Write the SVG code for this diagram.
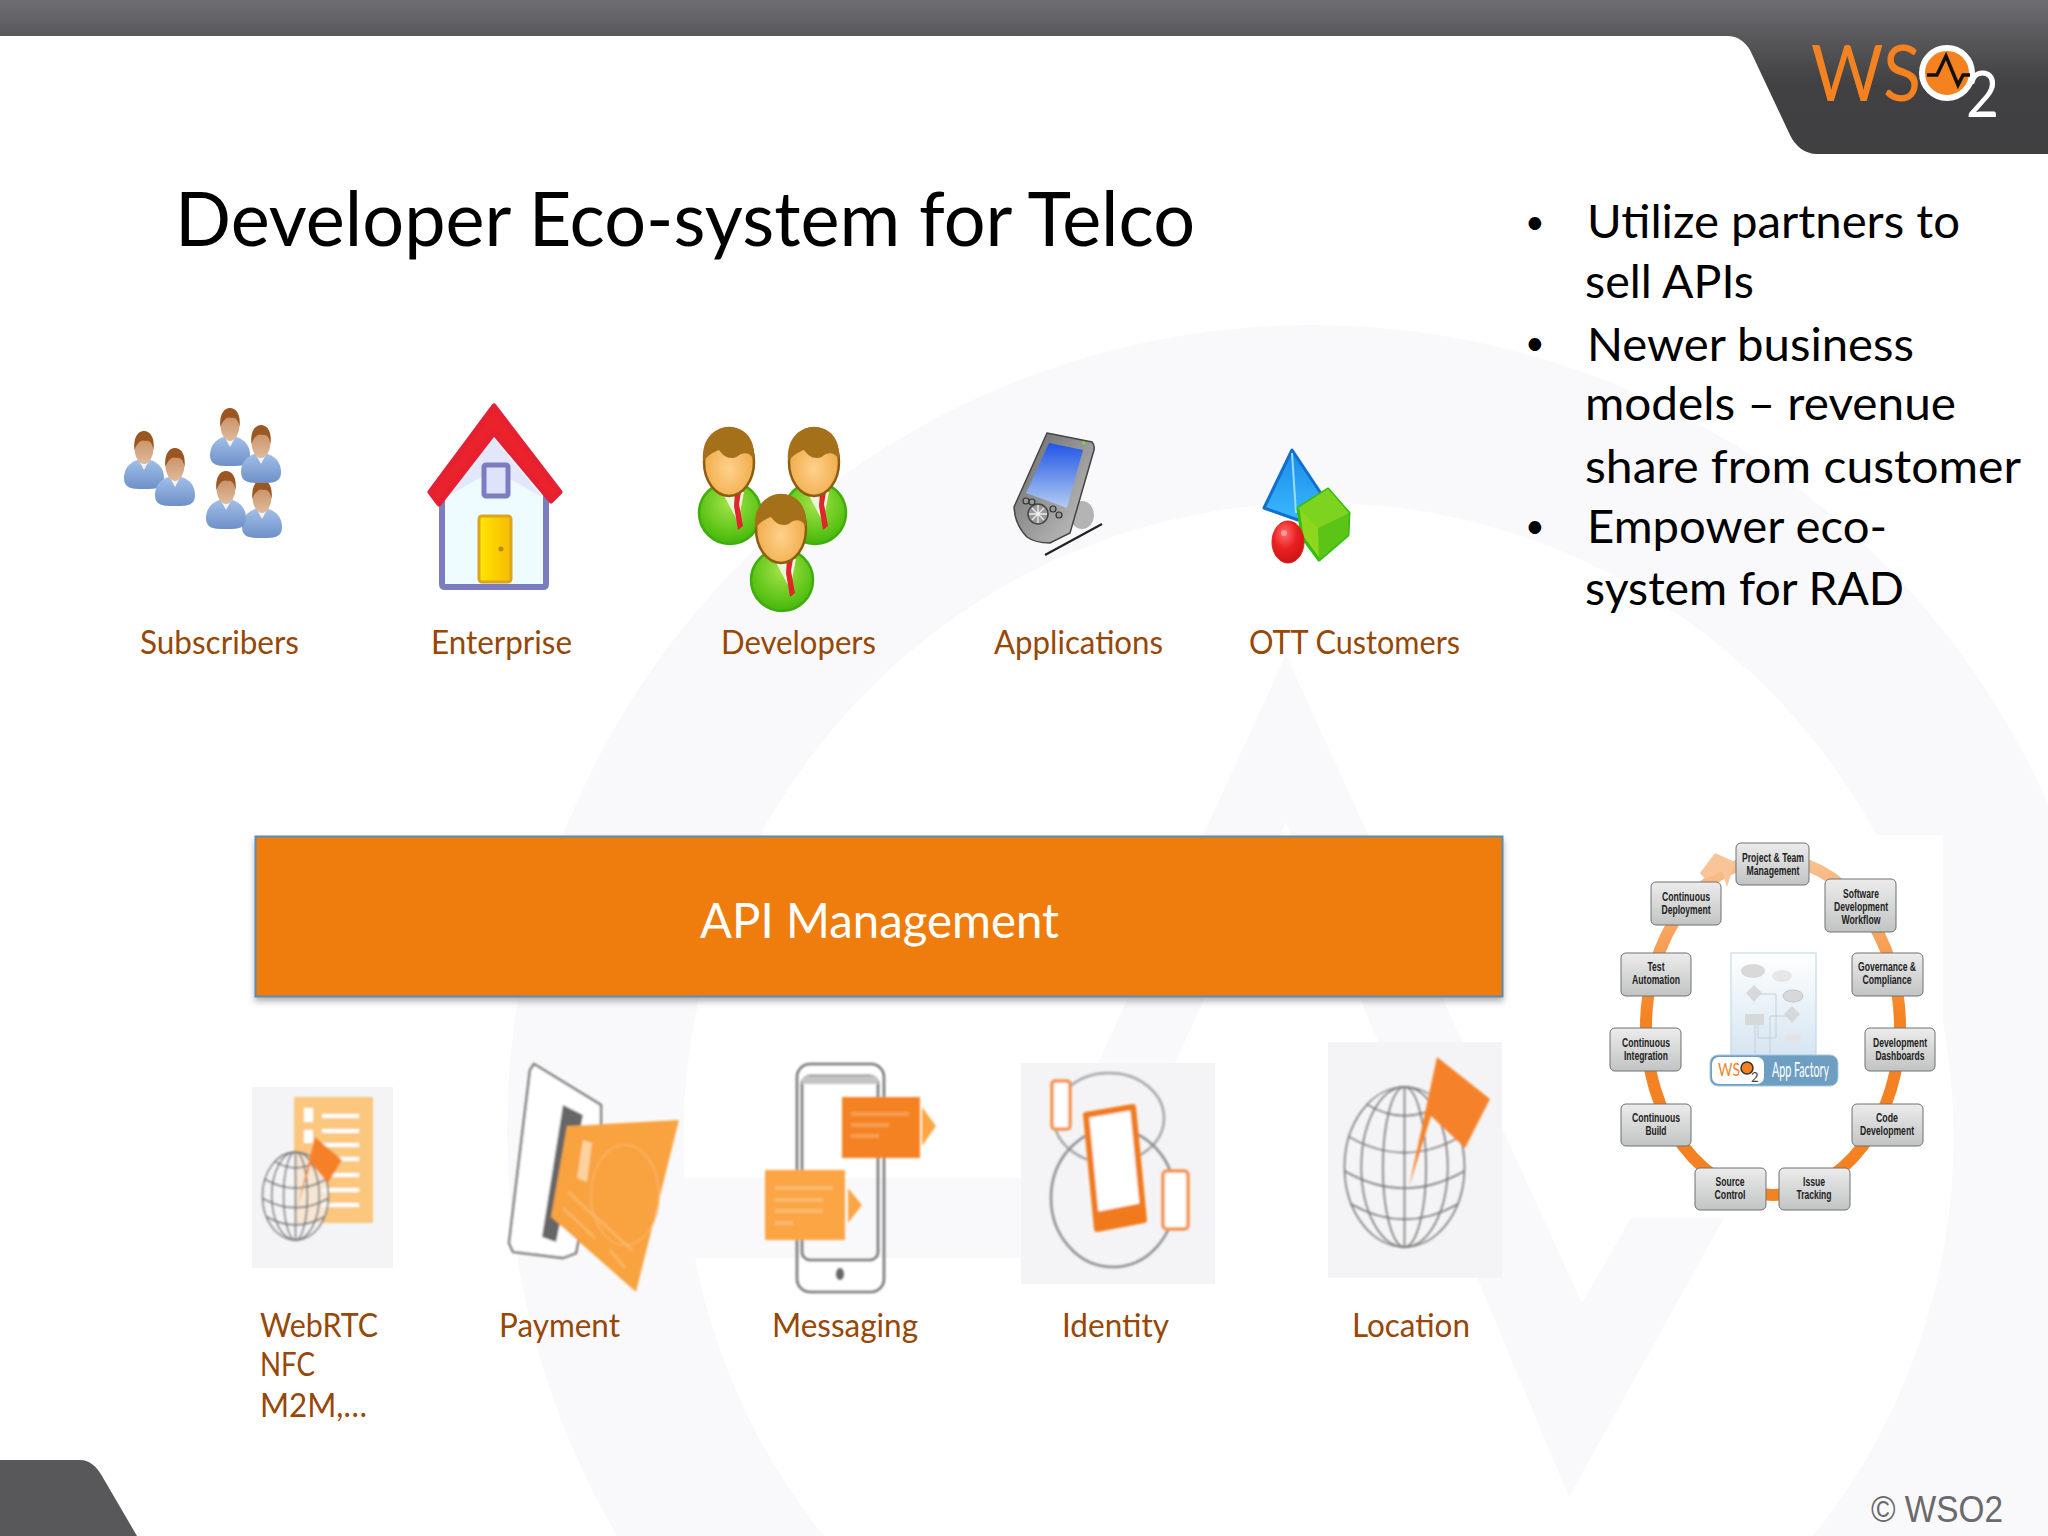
<svg xmlns="http://www.w3.org/2000/svg" xmlns:xlink="http://www.w3.org/1999/xlink" width="2048" height="1536" viewBox="0 0 2048 1536">
<style>
text{font-family:"Lato","Noto Sans",sans-serif}
.lbl{font-size:33px;fill:#974706}
.bul{font-size:47px;fill:#000}
.dot{font-size:34px;fill:#000}
.box{fill:url(#boxG);stroke:#6f7272;stroke-width:1}
.bt{font-family:"Liberation Sans",Arial,sans-serif;font-weight:700;font-size:12px;fill:#222;text-anchor:middle}
.wm{fill:#f9f9fb}
.gl{fill:none;stroke:#777;stroke-width:1.6;vector-effect:non-scaling-stroke}
.ibg{fill:#f4f4f6}
.ph{fill:none;stroke:#777;stroke-width:2.6}
.faint{fill:#fff;opacity:.22}
</style>
<defs>
<linearGradient id="hdr" x1="0" y1="0" x2="0" y2="154" gradientUnits="userSpaceOnUse"><stop offset="0" stop-color="#6f6f73"/><stop offset=".24" stop-color="#58585b"/><stop offset=".55" stop-color="#414043"/><stop offset="1" stop-color="#403f42"/></linearGradient>
<linearGradient id="boxG" x1="0" y1="0" x2="0" y2="1"><stop offset="0" stop-color="#ececec"/><stop offset="1" stop-color="#c2c3c3"/></linearGradient>
<linearGradient id="ringG" x1="0" y1="850" x2="0" y2="1020" gradientUnits="userSpaceOnUse"><stop offset="0" stop-color="#f9c598"/><stop offset="1" stop-color="#f58220"/></linearGradient>
<linearGradient id="docG" x1="0" y1="0" x2="0" y2="1"><stop offset="0" stop-color="#ffffff"/><stop offset="1" stop-color="#d3e4f1"/></linearGradient>
<linearGradient id="subB" x1="0" y1="0" x2="0" y2="1"><stop offset="0" stop-color="#a3c0e8"/><stop offset="1" stop-color="#6d90c8"/></linearGradient>
<linearGradient id="skin" x1="0" y1="0" x2="0" y2="1"><stop offset="0" stop-color="#c48658"/><stop offset="1" stop-color="#dfbb9c"/></linearGradient>
<radialGradient id="devB" cx=".5" cy=".35" r=".7"><stop offset="0" stop-color="#a4e34a"/><stop offset=".7" stop-color="#5cc416"/><stop offset="1" stop-color="#3fb00c"/></radialGradient>
<radialGradient id="devS" cx=".5" cy=".6" r=".6"><stop offset="0" stop-color="#ffd18c"/><stop offset="1" stop-color="#eda63f"/></radialGradient>
<linearGradient id="scr" x1="0" y1="0" x2="0" y2="1"><stop offset="0" stop-color="#1f55e6"/><stop offset="1" stop-color="#b3cdf0"/></linearGradient>
<linearGradient id="pdaB" x1="0" y1="0" x2="1" y2="1"><stop offset="0" stop-color="#666"/><stop offset="1" stop-color="#c8c8c8"/></linearGradient>
<linearGradient id="pyr" x1="0" y1="0" x2="0" y2="1"><stop offset="0" stop-color="#1a8be8"/><stop offset="1" stop-color="#3ab8ff"/></linearGradient>
<radialGradient id="ball" cx=".4" cy=".3" r=".75"><stop offset="0" stop-color="#ff6a6a"/><stop offset=".5" stop-color="#ea2020"/><stop offset="1" stop-color="#c81414"/></radialGradient>
<linearGradient id="door" x1="0" y1="0" x2="1" y2="0"><stop offset="0" stop-color="#ffe600"/><stop offset="1" stop-color="#f7bb00"/></linearGradient>
<filter id="soft" x="-5%" y="-5%" width="110%" height="110%"><feGaussianBlur stdDeviation=".9"/></filter>
<filter id="soft2" x="-5%" y="-5%" width="110%" height="110%"><feGaussianBlur stdDeviation=".5"/></filter>
<filter id="shadow" x="-2%" y="-5%" width="104%" height="115%"><feDropShadow dx="0" dy="4" stdDeviation="3" flood-color="#555" flood-opacity=".45"/></filter>
<g id="person">
<path d="M-20,30 C-20,17 -9,11 0,11 C9,11 20,17 20,30 C20,41 11,41 0,41 C-11,41 -20,41 -20,30Z" fill="url(#subB)"/>
<path d="M-6,11 L0,22 L6,11Z" fill="#f2f4f8"/>
<ellipse cx="0" cy="0" rx="9.5" ry="16" fill="url(#skin)"/>
<path d="M-9.500,2 C-11,-12 -5,-17 0,-17 C6,-17 11,-11 9.500,2 C8.500,-5 5,-8 2,-7 C-2,-9 -7,-6 -9.500,2Z" fill="#9c5622"/>
</g>
<g id="dev">
<ellipse cx="1" cy="51" rx="31" ry="31" fill="url(#devB)" stroke="#3dae0b" stroke-width="2.500"/>
<path d="M-9,26 L9,60 L15,30Z" fill="#eaf7dc"/>
<path d="M6,30 L12,30 L10,42 L14,64 L9,68 L5,44Z" fill="#e0262a"/>
<ellipse cx="0" cy="0" rx="25" ry="34" fill="url(#devS)" stroke="#8d5c10" stroke-width="2.500"/>
<path d="M-26,0 C-28,-26 -12,-35 0,-35 C15,-35 27,-24 25,-2 C21,-10 14,-10 9,-6 C2,-1 -6,-6 -10,-12 C-16,-10 -22,-6 -26,0Z" fill="#a5701a"/>
</g>
<g id="globe">
<ellipse class="gl" cx="0" cy="0" rx="1" ry="1"/>
<ellipse class="gl" cx="0" cy="0" rx=".72" ry="1"/>
<ellipse class="gl" cx="0" cy="0" rx=".36" ry="1"/>
<path class="gl" d="M0,-1 V1"/>
<path class="gl" d="M-.62,-.78 Q0,-.5 .62,-.78M-.93,-.38 Q0,.02 .93,-.38M-1,.05 Q0,.48 1,.05M-.9,.46 Q0,.85 .9,.46"/>
</g>
</defs>
<rect width="2048" height="1536" fill="#fff"/>
<g id="watermark">
<path class="wm" fill-rule="evenodd" d="M1312,325 A805,805 0 0 1 2048,1456 V1536 H2007 L1920,1536 H1813 A635,635 0 1 0 824,1536 H617 A805,805 0 0 1 1312,325Z"/>
<path class="wm" d="M600,1178 H1045 L1286,655 L1582,1303 L1631,1218 H1724 L1569,1497 L1286,822 L1085,1258 H600Z"/>
</g>
<g id="header"><path d="M0,0 H2048 V154 H1817 C1805,154 1795,146 1790,135 L1750,50 C1745,42 1738,36 1727,36 H0Z" fill="url(#hdr)"/></g>
<g id="wso2-logo">
<text x="1811" y="101" font-size="78" font-weight="400" fill="#f58220" textLength="110" lengthAdjust="spacingAndGlyphs">WS</text>
<circle cx="1947" cy="73" r="25" fill="#f58220" stroke="#fff" stroke-width="6"/>
<path d="M1927,75 H1937 L1946,56 L1958,85 L1963,75 H1970" fill="none" stroke="#111" stroke-width="3.500"/>
<text x="1966" y="117" font-size="64" font-weight="400" fill="#fff" textLength="33" lengthAdjust="spacingAndGlyphs">2</text>
</g>
<g id="footer">
<path d="M0,1460 H80 C90,1460 97,1467 102,1476 L137,1536 H0Z" fill="#58585a"/>
<text x="1871" y="1522" style="font-family:'Liberation Sans',Arial,sans-serif" font-size="36" fill="#6a6a6c" textLength="132" lengthAdjust="spacingAndGlyphs">© WSO2</text>
</g>
<g id="title"><text x="175" y="246" font-size="76" fill="#000" textLength="1020" lengthAdjust="spacingAndGlyphs">Developer Eco-system for Telco</text></g>
<g id="bullets">
<text class="dot" x="1525" y="234">•</text>
<text class="bul" x="1587" y="238" textLength="373" lengthAdjust="spacingAndGlyphs">Utilize partners to</text>
<text class="bul" x="1585" y="298" textLength="169" lengthAdjust="spacingAndGlyphs">sell APIs</text>
<text class="dot" x="1525" y="355">•</text>
<text class="bul" x="1587" y="361" textLength="327" lengthAdjust="spacingAndGlyphs">Newer business</text>
<text class="bul" x="1585" y="420" textLength="371" lengthAdjust="spacingAndGlyphs">models – revenue</text>
<text class="bul" x="1585" y="483" textLength="436" lengthAdjust="spacingAndGlyphs">share from customer</text>
<text class="dot" x="1525" y="538">•</text>
<text class="bul" x="1587" y="543" textLength="300" lengthAdjust="spacingAndGlyphs">Empower eco-</text>
<text class="bul" x="1585" y="605" textLength="319" lengthAdjust="spacingAndGlyphs">system for RAD</text>
</g>
<g id="subscribers" >
<use xlink:href="#person" href="#person" x="262" y="497"/>
<use xlink:href="#person" href="#person" x="226" y="488"/>
<use xlink:href="#person" href="#person" x="230" y="425"/>
<use xlink:href="#person" href="#person" x="261" y="442"/>
<use xlink:href="#person" href="#person" x="144" y="448"/>
<use xlink:href="#person" href="#person" x="175" y="465"/>
<text class="lbl" x="140" y="654" textLength="159" lengthAdjust="spacingAndGlyphs">Subscribers</text>
</g>
<g id="enterprise">
<path d="M442,490 L494,418 L546,490 V584 Q546,587 543,587 H445 Q442,587 442,584Z" fill="#eefbff" stroke="#7b7dc0" stroke-width="6" stroke-linejoin="round"/>
<path d="M446,497 L494,438 L542,497 L494,470Z" fill="#dfe3f9" opacity=".8"/>
<rect x="484" y="465" width="24" height="31" rx="2" fill="#dfe3f9" stroke="#7b7dc0" stroke-width="5"/>
<rect x="479" y="516" width="32" height="66" rx="3" fill="url(#door)" stroke="#dba61f" stroke-width="3"/>
<circle cx="501" cy="549" r="2.500" fill="#b58a10"/>
<path d="M494,406 L430,492 L439,504 L494,433 L551,501 L560,492Z" fill="#e9222c" stroke="#e52030" stroke-width="5" stroke-linejoin="round"/>
<text class="lbl" x="431" y="654" textLength="141" lengthAdjust="spacingAndGlyphs">Enterprise</text>
</g>
<g id="developers">
<use xlink:href="#dev" href="#dev" x="729" y="462"/>
<use xlink:href="#dev" href="#dev" x="814" y="462"/>
<use xlink:href="#dev" href="#dev" x="781" y="529"/>
<text class="lbl" x="721" y="654" textLength="155" lengthAdjust="spacingAndGlyphs">Developers</text>
</g>
<g id="applications">
<ellipse cx="1082" cy="515" rx="12" ry="14" fill="#b4b4b4"/>
<path d="M1045,555 L1102,524" stroke="#222" stroke-width="2.200"/>
<path d="M1047,433 L1092,442 Q1095,445 1094,450 L1070,533 L1050,543 Q1035,543 1027,537 Q1018,528 1015,515 L1014,507Z" fill="url(#pdaB)" stroke="#444" stroke-width="1.500"/>
<path d="M1049,443 L1083,450 L1067,508 L1026,493Z" fill="url(#scr)"/>
<circle cx="1038" cy="514" r="10" fill="#999" stroke="#444" stroke-width="1.500"/>
<path d="M1038,505 V523 M1029,514 H1047 M1032,508 L1044,520 M1044,508 L1032,520" stroke="#eee" stroke-width="1.300"/>
<g fill="#999" stroke="#333" stroke-width="1.200"><circle cx="1026" cy="501" r="3"/><circle cx="1032" cy="502" r="3"/><circle cx="1053" cy="509" r="3"/><circle cx="1059" cy="515" r="3"/></g>
<circle cx="1084" cy="443" r="1.600" fill="#7fe02a"/>
<text class="lbl" x="994" y="654" textLength="169" lengthAdjust="spacingAndGlyphs">Applications</text>
</g>
<g id="ott-customers">
<path d="M1292,450 L1264,508 L1298,520 L1322,495Z" fill="url(#pyr)" stroke="#0f6fd0" stroke-width="3" stroke-linejoin="round"/>
<path d="M1292,453 L1296,513" stroke="#9adcff" stroke-width="2"/>
<path d="M1328,489 L1349,513 L1348,535 L1319,560 L1302,537 L1298,508Z" fill="#8fd61e" stroke="#2fbf0c" stroke-width="3" stroke-linejoin="round"/>
<path d="M1298,508 L1318,528 L1349,513 L1328,489Z" fill="#7ed321"/><path d="M1318,528 L1319,560 L1348,535 L1349,513Z" fill="#5cc416"/>
<ellipse cx="1288" cy="542" rx="16" ry="21" fill="url(#ball)" stroke="#e02020" stroke-width="1"/>
<circle cx="1284" cy="533" r="3" fill="#ff9a9a"/>
<text class="lbl" x="1249" y="654" textLength="211" lengthAdjust="spacingAndGlyphs">OTT Customers</text>
</g>
<g id="api-management">
<rect x="255.500" y="836.500" width="1247" height="160" fill="#ee7d08" stroke="#5b8cb4" stroke-width="2" filter="url(#shadow)"/>
<text x="700" y="938" font-size="48" fill="#fff" textLength="359" lengthAdjust="spacingAndGlyphs">API Management</text>
</g>
<g id="webrtc">
<rect class="ibg" x="252" y="1087" width="141" height="181"/>
<g filter="url(#soft)">
<rect x="294" y="1097" width="79" height="126" fill="#fbc77f"/>
<g fill="#fff"><rect x="304" y="1108" width="9" height="14"/><rect x="304" y="1130" width="9" height="13"/><rect x="322" y="1114" width="37" height="4"/><rect x="322" y="1129" width="37" height="4"/><rect x="322" y="1143" width="37" height="4"/><rect x="322" y="1157" width="37" height="4"/><rect x="322" y="1173" width="37" height="4"/><rect x="322" y="1188" width="37" height="4"/><rect x="322" y="1203" width="37" height="4"/></g>
<ellipse cx="295.500" cy="1196" rx="33" ry="44" fill="#f4f4f6" opacity=".7"/>
<use xlink:href="#globe" href="#globe" transform="translate(295.500 1196) scale(33 44)"/>
<path d="M315,1137 L342,1160 L328,1183 L311,1163 L297,1208Z" fill="#f58025"/>
</g>
<text class="lbl" x="260" y="1337" textLength="118" lengthAdjust="spacingAndGlyphs">WebRTC</text>
<text class="lbl" x="260" y="1376" textLength="55" lengthAdjust="spacingAndGlyphs">NFC</text>
<text class="lbl" x="260" y="1417" textLength="107" lengthAdjust="spacingAndGlyphs">M2M,…</text>
</g>
<g id="payment">
<g filter="url(#soft)">
<path d="M534,1064 L601,1105 L601,1123 L576,1253 L563,1258 L513,1252 L509,1243 L530,1070Z" fill="#fff" stroke="#777" stroke-width="2.400"/>
<path d="M563,1105 L583,1115 L556,1242 L542,1237Z" fill="#666"/>
<path d="M567,1126 L679,1120 L636,1292 L551,1217Z" fill="#f9a340"/>
<ellipse cx="625" cy="1195" rx="34" ry="50" fill="none" stroke="#fbb468" stroke-width="1.500"/>
<path d="M583,1140 L577,1178 L587,1182 L592,1143Z" fill="#fcd3a0"/>
<path d="M568,1192 L632,1250 M563,1208 L595,1238 M610,1250 L625,1268" stroke="#fbbd74" stroke-width="3" opacity=".7"/>
</g>
<text class="lbl" x="499" y="1337" textLength="121" lengthAdjust="spacingAndGlyphs">Payment</text>
</g>
<g id="messaging">
<g filter="url(#soft)">
<rect class="ph" x="797" y="1064" width="87" height="228" rx="13"/>
<rect class="ph" x="802" y="1076" width="76" height="184" rx="8"/>
<path d="M802,1080 Q802,1076 808,1076 H872 Q878,1076 878,1080 V1084 H802Z" fill="#c4c4c4"/>
<ellipse cx="840" cy="1274" rx="4" ry="6" fill="#666"/>
<rect x="842" y="1097" width="78" height="61" fill="#f58220"/>
<path d="M922,1107 L936,1126 L922,1146Z" fill="#fba544"/>
<g class="faint"><rect x="851" y="1112" width="58" height="4"/><rect x="851" y="1123" width="38" height="4"/><rect x="851" y="1134" width="28" height="4"/></g>
<rect x="765" y="1170" width="80" height="70" fill="#fba544"/>
<path d="M848,1188 L862,1205 L848,1223Z" fill="#fba544"/>
<g class="faint"><rect x="775" y="1186" width="58" height="4"/><rect x="775" y="1198" width="48" height="4"/><rect x="775" y="1209" width="48" height="4"/><rect x="775" y="1221" width="18" height="4"/></g>
</g>
<text class="lbl" x="772" y="1337" textLength="146" lengthAdjust="spacingAndGlyphs">Messaging</text>
</g>
<g id="identity">
<rect class="ibg" x="1021" y="1063" width="194" height="221"/>
<g filter="url(#soft)">
<ellipse cx="1109" cy="1118" rx="55" ry="45" fill="none" stroke="#a5a5a5" stroke-width="2.500"/>
<ellipse cx="1113" cy="1198" rx="62" ry="69" fill="none" stroke="#8d8d8d" stroke-width="2.500"/>
<path d="M1086,1115 L1133,1107 L1144,1220 L1097,1229Z" fill="#fff" stroke="#f07a1c" stroke-width="6" stroke-linejoin="round"/>
<path d="M1096,1212 L1142,1203 L1144,1220 L1097,1229Z" fill="#f07a1c"/>
<rect x="1052" y="1081" width="18" height="48" rx="3" fill="#fff" stroke="#f4924a" stroke-width="3.500"/>
<rect x="1163" y="1171" width="25" height="58" rx="4" fill="#fff" stroke="#f4924a" stroke-width="3.500"/>
</g>
<text class="lbl" x="1062" y="1337" textLength="107" lengthAdjust="spacingAndGlyphs">Identity</text>
</g>
<g id="location">
<rect class="ibg" x="1328" y="1042" width="174" height="236"/>
<g filter="url(#soft)">
<use xlink:href="#globe" href="#globe" transform="translate(1404.500 1167) scale(60 80)"/>
<path d="M1437,1057 L1490,1099 L1465,1148 L1431,1116 L1409,1187Z" fill="#f58229"/>
</g>
<text class="lbl" x="1352" y="1337" textLength="118" lengthAdjust="spacingAndGlyphs">Location</text>
</g>
<g id="app-factory">
<rect x="1605" y="835" width="338" height="383" fill="#fff"/>
<g filter="url(#soft2)">
<ellipse cx="1773" cy="1027" rx="127" ry="168" fill="none" stroke="url(#ringG)" stroke-width="12"/>
<path d="M1715,853 L1735,862 L1727,887 L1722,871 L1705,879 L1700,873Z" fill="#f9c598"/>
</g>
<g id="af-center">
<rect x="1731" y="953" width="85" height="107" fill="url(#docG)" stroke="#bcd4e4" stroke-width="1"/>
<g fill="#d4d4d4" opacity=".85">
<ellipse cx="1753" cy="971" rx="12" ry="7"/><ellipse cx="1782" cy="976" rx="10" ry="6" fill="#e4e4e4"/><ellipse cx="1793" cy="996" rx="10" ry="6" stroke="#bbb"/>
<path d="M1754,985 L1762,993 L1754,1002 L1746,993Z"/><path d="M1792,1006 L1800,1014 L1792,1023 L1784,1014Z"/>
<rect x="1745" y="1014" width="19" height="11"/><rect x="1785" y="1035" width="16" height="8" fill="#e4e4e4"/>
</g>
<path d="M1760,994 H1776 V1038 H1758 V1025 M1770,1060 V1016 H1790 M1755,1025 V1055" fill="none" stroke="#c9ced2" stroke-width="1"/>
<rect x="1710" y="1055" width="128" height="31" rx="8" fill="#6e9fc2" stroke="#a8c8dc"/>
<rect x="1712" y="1057" width="52" height="27" rx="7" fill="#fff"/>
<text x="1718" y="1076" font-size="17" fill="#f58220" textLength="22" lengthAdjust="spacingAndGlyphs">WS</text>
<circle cx="1747" cy="1068" r="6" fill="#f58220" stroke="#333" stroke-width="1.500"/>
<text x="1751" y="1082" font-size="13" fill="#444">2</text>
<text x="1772" y="1077" font-size="22" fill="#fff" textLength="57" lengthAdjust="spacingAndGlyphs">App Factory</text>
</g>
<g id="af-project"><rect class="box" x="1736" y="843" width="73" height="42" rx="5"/><text class="bt" x="1773" y="862" textLength="62" lengthAdjust="spacingAndGlyphs">Project &amp; Team</text><text class="bt" x="1773" y="875" textLength="53" lengthAdjust="spacingAndGlyphs">Management</text></g>
<g id="af-software"><rect class="box" x="1825" y="879" width="71" height="53" rx="5"/><text class="bt" x="1861" y="898" textLength="36" lengthAdjust="spacingAndGlyphs">Software</text><text class="bt" x="1861" y="911" textLength="54" lengthAdjust="spacingAndGlyphs">Development</text><text class="bt" x="1861" y="924" textLength="39" lengthAdjust="spacingAndGlyphs">Workflow</text></g>
<g id="af-governance"><rect class="box" x="1852" y="953" width="71" height="43" rx="5"/><text class="bt" x="1887" y="971" textLength="58" lengthAdjust="spacingAndGlyphs">Governance &amp;</text><text class="bt" x="1887" y="984" textLength="49" lengthAdjust="spacingAndGlyphs">Compliance</text></g>
<g id="af-dashboards"><rect class="box" x="1865" y="1028" width="70" height="43" rx="5"/><text class="bt" x="1900" y="1047" textLength="54" lengthAdjust="spacingAndGlyphs">Development</text><text class="bt" x="1900" y="1060" textLength="49" lengthAdjust="spacingAndGlyphs">Dashboards</text></g>
<g id="af-code"><rect class="box" x="1852" y="1104" width="71" height="42" rx="5"/><text class="bt" x="1887" y="1122" textLength="22" lengthAdjust="spacingAndGlyphs">Code</text><text class="bt" x="1887" y="1135" textLength="54" lengthAdjust="spacingAndGlyphs">Development</text></g>
<g id="af-issue"><rect class="box" x="1779" y="1168" width="71" height="42" rx="5"/><text class="bt" x="1814" y="1186" textLength="22" lengthAdjust="spacingAndGlyphs">Issue</text><text class="bt" x="1814" y="1199" textLength="35" lengthAdjust="spacingAndGlyphs">Tracking</text></g>
<g id="af-source"><rect class="box" x="1695" y="1168" width="71" height="42" rx="5"/><text class="bt" x="1730" y="1186" textLength="29" lengthAdjust="spacingAndGlyphs">Source</text><text class="bt" x="1730" y="1199" textLength="31" lengthAdjust="spacingAndGlyphs">Control</text></g>
<g id="af-build"><rect class="box" x="1621" y="1104" width="70" height="42" rx="5"/><text class="bt" x="1656" y="1122" textLength="48" lengthAdjust="spacingAndGlyphs">Continuous</text><text class="bt" x="1656" y="1135" textLength="21" lengthAdjust="spacingAndGlyphs">Build</text></g>
<g id="af-integration"><rect class="box" x="1610" y="1028" width="71" height="43" rx="5"/><text class="bt" x="1646" y="1047" textLength="48" lengthAdjust="spacingAndGlyphs">Continuous</text><text class="bt" x="1646" y="1060" textLength="44" lengthAdjust="spacingAndGlyphs">Integration</text></g>
<g id="af-test"><rect class="box" x="1621" y="953" width="70" height="43" rx="5"/><text class="bt" x="1656" y="971" textLength="17" lengthAdjust="spacingAndGlyphs">Test</text><text class="bt" x="1656" y="984" textLength="48" lengthAdjust="spacingAndGlyphs">Automation</text></g>
<g id="af-deploy"><rect class="box" x="1651" y="882" width="70" height="43" rx="5"/><text class="bt" x="1686" y="901" textLength="48" lengthAdjust="spacingAndGlyphs">Continuous</text><text class="bt" x="1686" y="914" textLength="49" lengthAdjust="spacingAndGlyphs">Deployment</text></g>
</g>
</svg>
